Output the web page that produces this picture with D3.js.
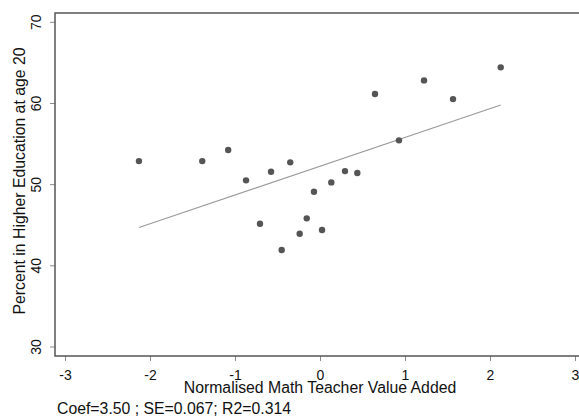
<!DOCTYPE html>
<html>
<head>
<meta charset="utf-8">
<script src="https://cdn.jsdelivr.net/npm/d3@7"></script>
<style>
  body { margin: 0; background: #fff; }
  text { font-family: "Liberation Sans", Arial, sans-serif; fill: #111; }
</style>
</head>
<body>
<div id="chart"></div>
<script>
'use strict';

// binned teacher value added (x) vs percent in higher education (y)
var valueAdded = [-2.13, -1.385, -1.08, -0.87, -0.576, -0.35, -0.706, -0.451, -0.239, -0.156,
                  -0.071, 0.024, 0.133, 0.294, 0.439, 0.647, 0.929, 1.224, 1.565, 2.126];
var pctHigherEd = [52.9, 52.9, 54.26, 50.53, 51.59, 52.75, 45.18, 41.95, 43.95, 45.85,
                   49.13, 44.41, 50.28, 51.67, 51.43, 61.16, 55.46, 62.84, 60.54, 64.45];
var xTicks = [-3, -2, -1, 0, 1, 2, 3];
var yTicks = [30, 40, 50, 60, 70];
var xTitle = 'Normalised Math Teacher Value Added';
var yTitle = 'Percent in Higher Education at age 20';
var note = 'Coef=3.50 ; SE=0.067; R2=0.314';

var width = 579, height = 417;
var frame = {left: 55, top: 13, bottom: 356};
var labelSize = 15.8, tickSize = 14;

var x = d3.scaleLinear().domain([-3, 3]).range([65, 575]);
var y = d3.scaleLinear().domain([30, 70]).range([347, 22.3]);

// least squares fit through the binned points
function fitLine(xs, ys) {
    var mx = d3.mean(xs), my = d3.mean(ys);
    var sxy = d3.sum(xs, function(v, i) { return (v - mx) * (ys[i] - my); });
    var sxx = d3.sum(xs, function(v) { return (v - mx) * (v - mx); });
    var b = sxy / sxx;
    return {slope: b, intercept: my - b * mx};
}

// stata style labels use a plain hyphen
function plainNum(d) {
    return String(d);
}

var svg = d3.select('#chart').append('svg')
    .attr('width', width)
    .attr('height', height);

var fit = fitLine(valueAdded, pctHigherEd);
var ext = d3.extent(valueAdded);
svg.append('line')
    .attr('x1', x(ext[0]))
    .attr('y1', y(fit.intercept + fit.slope * ext[0]))
    .attr('x2', x(ext[1]))
    .attr('y2', y(fit.intercept + fit.slope * ext[1]))
    .attr('stroke', '#9a9a9a')
    .attr('stroke-width', 1.2);

svg.append('g').selectAll('circle')
    .data(d3.zip(valueAdded, pctHigherEd))
    .enter().append('circle')
    .attr('cx', function(d) { return x(d[0]); })
    .attr('cy', function(d) { return y(d[1]); })
    .attr('r', 3.2)
    .attr('fill', '#555');

// axes
var xAxis = svg.append('g')
    .attr('transform', 'translate(0,' + frame.bottom + ')')
    .call(d3.axisBottom(x).tickValues(xTicks).tickSize(5).tickPadding(9).tickFormat(plainNum));
var yAxis = svg.append('g')
    .attr('transform', 'translate(' + frame.left + ',0)')
    .call(d3.axisLeft(y).tickValues(yTicks).tickSize(5).tickPadding(4).tickFormat(plainNum));

[xAxis, yAxis].forEach(function(g) {
    g.select('.domain').remove();
    g.selectAll('.tick line').attr('stroke', '#8a8a8a');
    g.selectAll('.tick text')
        .attr('font-family', '"Liberation Sans", Arial, sans-serif')
        .attr('font-size', tickSize)
        .attr('fill', '#111');
});
yAxis.selectAll('.tick').attr('transform', null);
yAxis.selectAll('.tick text')
    .attr('transform', function(d) { return 'rotate(-90,-14,' + y(d) + ')'; })
    .attr('x', -14)
    .attr('y', function(d) { return y(d); })
    .attr('dy', 0)
    .attr('text-anchor', 'middle');
yAxis.selectAll('.tick line')
    .attr('y1', function(d) { return y(d); })
    .attr('y2', function(d) { return y(d); });

// frame: left, top, bottom (right edge is cut off)
svg.append('path')
    .attr('d', 'M' + width + ',' + frame.top + 'H' + frame.left + 'V' + frame.bottom + 'H' + width)
    .attr('fill', 'none')
    .attr('stroke', '#555')
    .attr('stroke-width', 1.5);

svg.append('text')
    .attr('x', (65 + 575) / 2)
    .attr('y', 393)
    .attr('text-anchor', 'middle')
    .attr('font-size', labelSize)
    .text(xTitle);

svg.append('text')
    .attr('transform', 'translate(25,' + 181 + ') rotate(-90)')
    .attr('text-anchor', 'middle')
    .attr('font-size', labelSize)
    .text(yTitle);

svg.append('text')
    .attr('x', 57)
    .attr('y', 414)
    .attr('font-size', labelSize)
    .text(note);
</script>
</body>
</html>
